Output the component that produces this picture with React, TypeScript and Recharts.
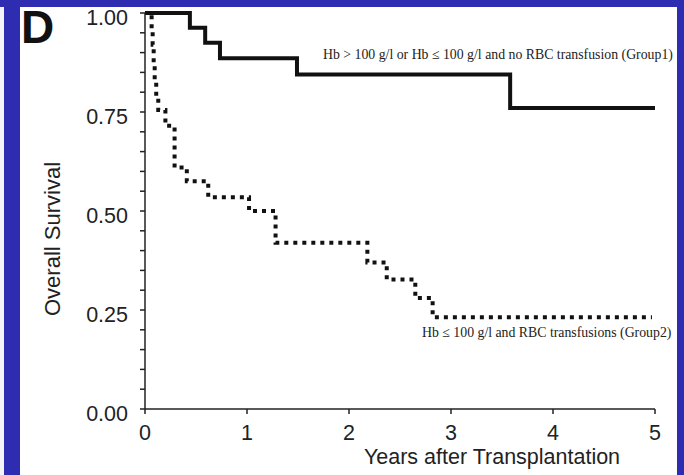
import React from 'react';
import { LineChart, Line, XAxis, YAxis } from 'recharts';

// Group 1: Hb > 100 g/l or Hb <= 100 g/l and no RBC transfusion
const group1Years = [0, 0.44, 0.59, 0.735, 1.49, 3.58, 5.0];
const group1Survival = [1.0, 0.963, 0.925, 0.886, 0.845, 0.76, 0.76];

// Group 2: Hb <= 100 g/l and RBC transfusions
const group2Years = [0, 0.065, 0.075, 0.085, 0.095, 0.11, 0.13, 0.2, 0.29, 0.41, 0.62, 1.02, 1.28, 2.18, 2.37, 2.65, 2.82, 4.97];
const group2Survival = [1.0, 0.96, 0.92, 0.875, 0.83, 0.79, 0.755, 0.715, 0.61, 0.575, 0.535, 0.5, 0.42, 0.37, 0.327, 0.28, 0.232, 0.232];

const xTicks = [0, 1, 2, 3, 4, 5];
const yTicks = [0, 0.05, 0.1, 0.15, 0.2, 0.25, 0.3, 0.35, 0.4, 0.45, 0.5, 0.55, 0.6, 0.65, 0.7, 0.75, 0.8, 0.85, 0.9, 0.95, 1.0];

const group1Label = 'Hb > 100 g/l or Hb \u2264 100 g/l and no RBC transfusion (Group1)';
const group2Label = 'Hb \u2264 100 g/l and RBC transfusions (Group2)';
const yTitle = 'Overall Survival';
const xTitle = 'Years after Transplantation';
const panelLetter = 'D';

const group1Data = group1Years.map((t, i) => ({ t, s: group1Survival[i] }));
const group2Data = group2Years.map((t, i) => ({ t, s: group2Survival[i] }));

const SANS = '"Liberation Sans", Arial, sans-serif';
const SERIF = '"Liberation Serif", "Times New Roman", serif';
const BLUE = '#2e2cb0';

const isMajor = (v: number) => Math.abs(v * 4 - Math.round(v * 4)) < 1e-6;

const YTick = (props: any) => {
  const { x, y, payload } = props;
  const v = payload.value as number;
  if (!isMajor(v)) return null;
  return (
    <text x={x} y={y + 5} textAnchor="end" dominantBaseline="central" fontFamily={SANS} fontSize={21.5} fill="#222">
      {v.toFixed(2)}
    </text>
  );
};

const XTick = (props: any) => {
  const { x, y, payload } = props;
  return (
    <text x={x} y={y} dy="0.71em" textAnchor="middle" fontFamily={SANS} fontSize={21.5} fill="#222">
      {String(payload.value)}
    </text>
  );
};

export default function App() {
  return (
    <div style={{ position: 'absolute', left: 0, top: 0, width: 684, height: 475, background: BLUE, overflow: 'hidden' }}>
      <div style={{ position: 'absolute', left: 0, top: 7, width: 4, height: 468, background: '#f4f4f8' }} />
      <div style={{ position: 'absolute', left: 20, top: 7, width: 657, height: 468, background: '#ffffff' }} />
      <div style={{ position: 'absolute', left: 0, top: 0 }}>
        <LineChart width={684} height={475} margin={{ top: 13, right: 29, bottom: 36, left: 85 }}>
          <XAxis
            type="number"
            dataKey="t"
            domain={[0, 5]}
            ticks={xTicks}
            allowDataOverflow
            height={30}
            tickSize={5}
            tickMargin={11}
            tick={<XTick />}
            stroke="#222"
            strokeWidth={1.5}
          />
          <YAxis
            type="number"
            dataKey="s"
            domain={[0, 1]}
            ticks={yTicks}
            interval={0}
            width={60}
            tickSize={5}
            tickMargin={12}
            tick={<YTick />}
            stroke="#222"
            strokeWidth={1.5}
          />
          <Line
            data={group2Data}
            dataKey="s"
            type="stepAfter"
            stroke="#111"
            strokeWidth={4}
            strokeDasharray="4 5"
            dot={false}
            activeDot={false}
            isAnimationActive={false}
          />
          <Line
            data={group1Data}
            dataKey="s"
            type="stepAfter"
            stroke="#111"
            strokeWidth={4}
            dot={false}
            activeDot={false}
            isAnimationActive={false}
          />
        </LineChart>
      </div>
      <svg width={684} height={475} style={{ position: 'absolute', left: 0, top: 0, pointerEvents: 'none' }}>
        <text x={21} y={43} fontFamily={SANS} fontWeight="bold" fontSize={46} fill="#111">{panelLetter}</text>
        <text x={323} y={59} fontFamily={SERIF} fontSize={13.8} fill="#222">{group1Label}</text>
        <text x={422} y={337} fontFamily={SERIF} fontSize={13.8} fill="#222">{group2Label}</text>
        <text
          x={60}
          y={239}
          transform="rotate(-90 60 239)"
          textAnchor="middle"
          fontFamily={SANS}
          fontSize={22}
          fill="#222"
        >
          {yTitle}
        </text>
        <text x={492} y={464} textAnchor="middle" fontFamily={SANS} fontSize={21.5} fill="#222">{xTitle}</text>
      </svg>
    </div>
  );
}
